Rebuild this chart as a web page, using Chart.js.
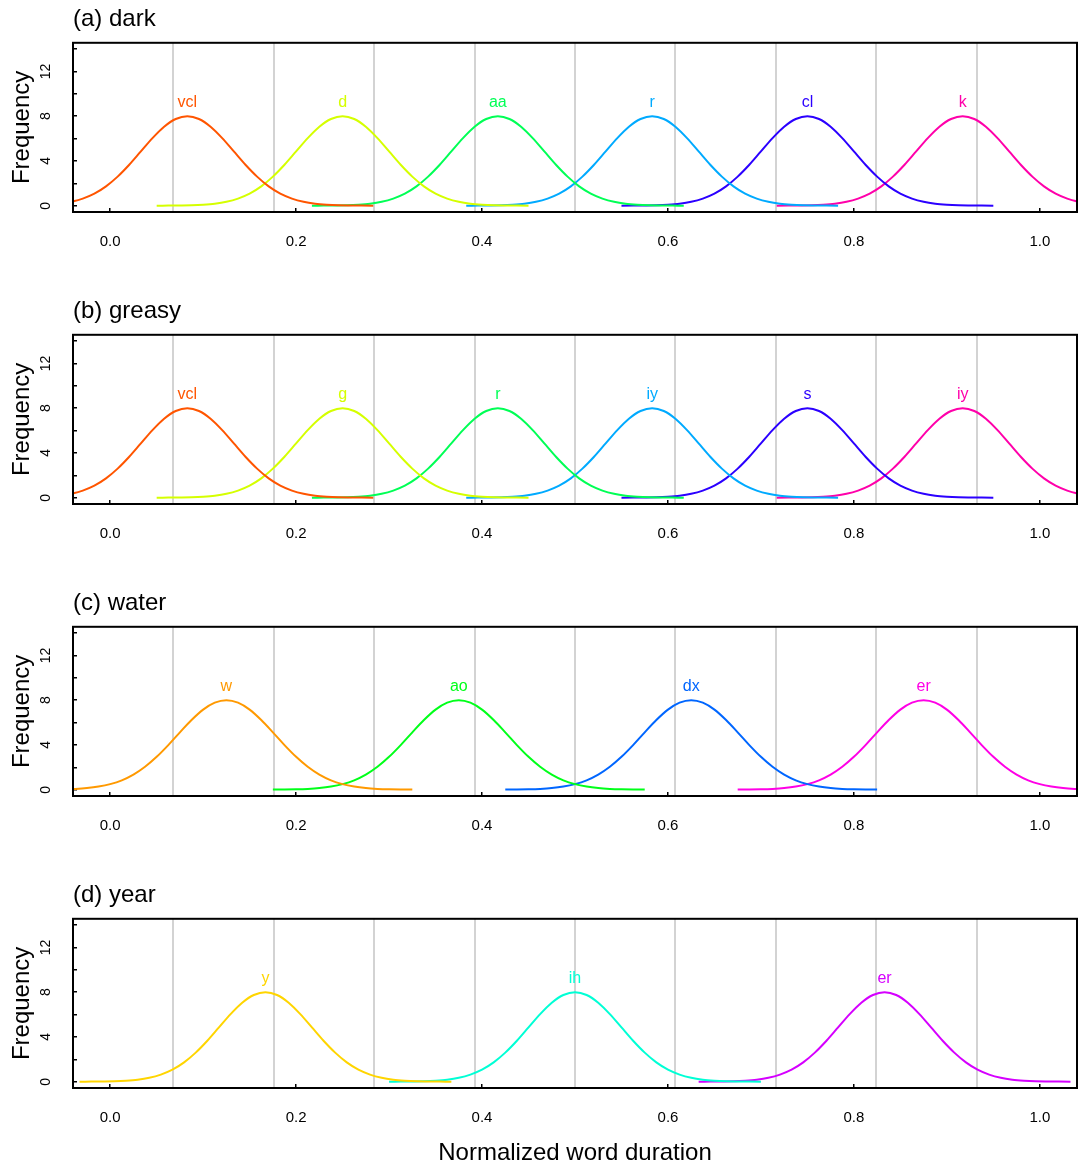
<!DOCTYPE html>
<html>
<head>
<meta charset="utf-8">
<title>Normalized word duration</title>
<script src="https://cdn.jsdelivr.net/npm/chart.js@4.4.1/dist/chart.umd.min.js"></script>
<style>
  body { margin: 0; background: #fff; }
  #wrap { width: 1078px; height: 1168px; }
  canvas { display: block; }
</style>
</head>
<body>
<div id="wrap">
  <canvas id="panelA" width="1078" height="292"></canvas>
  <canvas id="panelB" width="1078" height="292"></canvas>
  <canvas id="panelC" width="1078" height="292"></canvas>
  <canvas id="panelD" width="1078" height="292"></canvas>
</div>
<script>
// axis ticks and grey guide lines
const xTicks = [0.0, 0.2, 0.4, 0.6, 0.8, 1.0];
const yTicks = [0, 2, 4, 6, 8, 10, 12, 14];
const guideLines = [0.068, 0.176, 0.284, 0.392, 0.5, 0.608, 0.716, 0.824, 0.932];

// curve shape: distance from the peak and frequency there
const offsets = [-0.2, -0.1875, -0.175, -0.1625, -0.15, -0.1375, -0.125, -0.1125, -0.1, -0.0875,
                 -0.075, -0.0625, -0.05, -0.0375, -0.025, -0.0125, 0, 0.0125, 0.025, 0.0375,
                 0.05, 0.0625, 0.075, 0.0875, 0.1, 0.1125, 0.125, 0.1375, 0.15, 0.1625,
                 0.175, 0.1875, 0.2];
const heightsNarrow = [0.0, 0.01, 0.02, 0.04, 0.09, 0.18, 0.35, 0.64, 1.08, 1.73,
                       2.6, 3.66, 4.85, 6.04, 7.06, 7.75, 8.0, 7.75, 7.06, 6.04,
                       4.85, 3.66, 2.6, 1.73, 1.08, 0.64, 0.35, 0.18, 0.09, 0.04,
                       0.02, 0.01, 0.0];
const heightsWide = [0.01, 0.015, 0.034, 0.073, 0.146, 0.28, 0.5, 0.84, 1.35, 2.05,
                     2.94, 3.99, 5.13, 6.23, 7.16, 7.78, 8.0, 7.78, 7.16, 6.23,
                     5.13, 3.99, 2.94, 2.05, 1.35, 0.84, 0.5, 0.28, 0.146, 0.073,
                     0.034, 0.015, 0.01];

// (a) dark
const phonesA = ['vcl', 'd', 'aa', 'r', 'cl', 'k'];
const centresA = [0.083, 0.25, 0.417, 0.583, 0.75, 0.917];
const coloursA = ['#FF5500', '#D5FF00', '#00FF55', '#00AAFF', '#2B00FF', '#FF00AA'];

// (b) greasy
const phonesB = ['vcl', 'g', 'r', 'iy', 's', 'iy'];
const centresB = [0.083, 0.25, 0.417, 0.583, 0.75, 0.917];
const coloursB = ['#FF5500', '#D5FF00', '#00FF55', '#00AAFF', '#2B00FF', '#FF00AA'];

// (c) water
const phonesC = ['w', 'ao', 'dx', 'er'];
const centresC = [0.125, 0.375, 0.625, 0.875];
const coloursC = ['#FF9900', '#00FF19', '#0066FF', '#FF00E6'];

// (d) year
const phonesD = ['y', 'ih', 'er'];
const centresD = [0.167, 0.5, 0.833];
const coloursD = ['#FFD500', '#00FFD5', '#D500FF'];

Chart.defaults.font.family = "'Liberation Sans', Arial, Helvetica, sans-serif";
Chart.defaults.color = '#000';

const panelDecor = {
    id: 'panelDecor',
    beforeDatasetsDraw(chart) {
        const {ctx, chartArea: a, scales: {x}} = chart;
        ctx.save();
        ctx.strokeStyle = '#d3d3d3';
        ctx.lineWidth = 2;
        guideLines.forEach(v => {
            const px = Math.round(x.getPixelForValue(v));
            ctx.beginPath();
            ctx.moveTo(px, a.top);
            ctx.lineTo(px, a.bottom);
            ctx.stroke();
        });
        ctx.restore();
    },
    afterDatasetsDraw(chart) {
        const {ctx, chartArea: a, scales: {x, y}} = chart;
        ctx.save();
        // phone names above each peak
        ctx.font = "16px 'Liberation Sans', Arial, sans-serif";
        ctx.textAlign = 'center';
        ctx.textBaseline = 'middle';
        chart.data.datasets.forEach(ds => {
            let top = ds.data[0];
            ds.data.forEach(p => { if (p.y > top.y) top = p; });
            ctx.fillStyle = ds.borderColor;
            ctx.fillText(ds.label, x.getPixelForValue(top.x), y.getPixelForValue(top.y) - 14);
        });
        // box round the plot
        ctx.strokeStyle = '#000';
        ctx.lineWidth = 2;
        ctx.strokeRect(a.left, a.top, a.right - a.left, a.bottom - a.top);
        ctx.restore();
    }
};

class Main {
    constructor() {
        this.createPanel('panelA', '(a) dark', phonesA, centresA, coloursA, heightsNarrow, false);
        this.createPanel('panelB', '(b) greasy', phonesB, centresB, coloursB, heightsNarrow, false);
        this.createPanel('panelC', '(c) water', phonesC, centresC, coloursC, heightsWide, false);
        this.createPanel('panelD', '(d) year', phonesD, centresD, coloursD, heightsNarrow, true);
    }

    createPanel(id, title, phones, centres, colours, heights, showXTitle) {
        const ctx = document.getElementById(id).getContext('2d');
        const datasets = phones.map((phone, i) => ({
            label: phone,
            data: offsets.map((o, k) => ({x: centres[i] + o, y: heights[k]})),
            borderColor: colours[i],
            borderWidth: 2,
            pointRadius: 0,
            fill: false,
            cubicInterpolationMode: 'monotone'
        }));

        new Chart(ctx, {
            type: 'line',
            data: {datasets: datasets},
            options: {
                responsive: false,
                animation: false,
                layout: {padding: {left: 0, right: 1, top: 0, bottom: 0}},
                plugins: {
                    legend: {display: false},
                    tooltip: {enabled: false},
                    title: {
                        display: true,
                        text: title,
                        align: 'start',
                        fullSize: false,
                        color: '#000',
                        font: {size: 24, weight: 'normal'},
                        padding: {top: 5, bottom: 9}
                    }
                },
                scales: {
                    x: {
                        type: 'linear',
                        min: -0.04,
                        max: 1.04,
                        afterBuildTicks: s => { s.ticks = xTicks.map(v => ({value: v})); },
                        afterFit: s => { s.height = 80; },
                        grid: {drawOnChartArea: false, drawTicks: true, tickLength: -4, color: '#000', lineWidth: 1.5},
                        border: {display: false},
                        ticks: {
                            autoSkip: false,
                            maxRotation: 0,
                            padding: 25,
                            font: {size: 15},
                            callback: v => v.toFixed(1)
                        },
                        title: {
                            display: showXTitle,
                            text: 'Normalized word duration',
                            font: {size: 24},
                            padding: {top: 0, bottom: 0}
                        }
                    },
                    y: {
                        min: -0.56,
                        max: 14.56,
                        afterBuildTicks: s => { s.ticks = yTicks.map(v => ({value: v})); },
                        afterFit: s => { s.width = 73; },
                        grid: {drawOnChartArea: false, drawTicks: true, tickLength: -4, color: '#000', lineWidth: 1.5},
                        border: {display: false},
                        ticks: {
                            autoSkip: false,
                            minRotation: 90,
                            maxRotation: 90,
                            crossAlign: 'center',
                            padding: 23,
                            font: {size: 14},
                            callback: v => (v % 4 === 0 ? String(v) : '')
                        },
                        title: {
                            display: true,
                            text: 'Frequency',
                            font: {size: 24},
                            padding: {top: 8, bottom: 0}
                        }
                    }
                }
            },
            plugins: [panelDecor]
        });
    }
}

new Main();
</script>
</body>
</html>
